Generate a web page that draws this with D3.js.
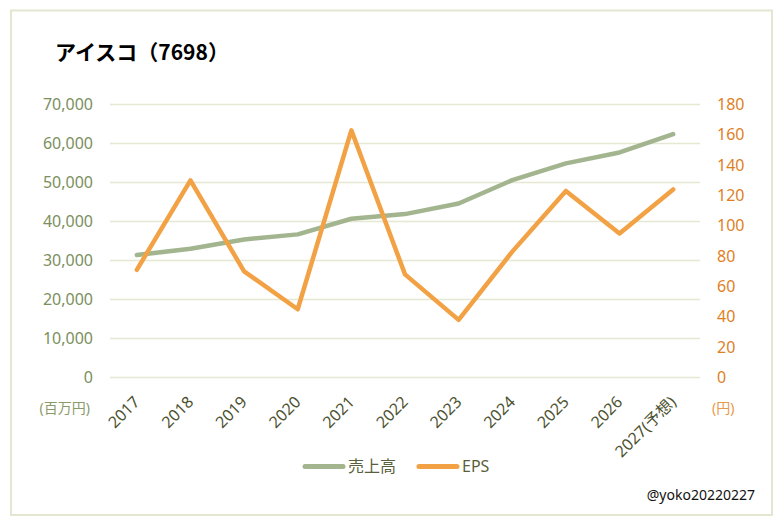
<!DOCTYPE html>
<html>
<head>
<meta charset="utf-8">
<script src="https://cdn.jsdelivr.net/npm/d3@7"></script>
<style>
  body { margin: 0; background: #fff; }
  text { font-family: "Noto Sans", "Noto Sans CJK JP", sans-serif; }
</style>
</head>
<body>
<div id="chart"></div>
<script>
// Data
const years = ["2017", "2018", "2019", "2020", "2021", "2022", "2023", "2024", "2025", "2026", "2027(予想)"];
const sales = [31400, 33000, 35400, 36700, 40700, 41900, 44600, 50600, 54900, 57700, 62400];
const eps = [71, 130, 70, 45, 163, 68, 38, 83, 123, 95, 124];
const leftTicks = [0, 10000, 20000, 30000, 40000, 50000, 60000, 70000];
const rightTicks = [0, 20, 40, 60, 80, 100, 120, 140, 160, 180];

const W = 778, H = 522;
const plot = { left: 110, right: 700, top: 104.5, bottom: 377.5 };

const svg = d3.select("#chart").append("svg")
    .attr("width", W)
    .attr("height", H);

// outer frame
svg.append("rect")
    .attr("x", 11).attr("y", 10.5)
    .attr("width", 761).attr("height", 504.5)
    .attr("fill", "#fff")
    .attr("stroke", "#e4e6d2")
    .attr("stroke-width", 2);

// Scales
const x = d3.scaleBand().domain(years).range([plot.left, plot.right]);
const yL = d3.scaleLinear().domain([0, 70000]).range([plot.bottom, plot.top]);
const yR = d3.scaleLinear().domain([0, 180]).range([plot.bottom, plot.top]);

// Gridlines
svg.append("g")
    .selectAll("line")
    .data(leftTicks)
    .join("line")
    .attr("x1", plot.left).attr("x2", plot.right)
    .attr("y1", d => yL(d)).attr("y2", d => yL(d))
    .attr("stroke", "#e6e8d4")
    .attr("stroke-width", 1.5);

// Left axis labels
svg.append("g")
    .selectAll("text")
    .data(leftTicks)
    .join("text")
    .attr("x", 93)
    .attr("y", d => yL(d))
    .attr("dy", "0.35em")
    .attr("text-anchor", "end")
    .attr("fill", "#7b8f5e")
    .style("font-size", "16px")
    .text(d => d3.format(",")(d));

svg.append("text")
    .attr("x", 90).attr("y", 413)
    .attr("text-anchor", "end")
    .attr("fill", "#8a9a6a")
    .style("font-size", "14px")
    .text("(百万円)");

// Right axis labels
svg.append("g")
    .selectAll("text")
    .data(rightTicks)
    .join("text")
    .attr("x", 717)
    .attr("y", d => yR(d))
    .attr("dy", "0.35em")
    .attr("fill", "#e07f1f")
    .style("font-size", "16px")
    .text(d => d);

svg.append("text")
    .attr("x", 712).attr("y", 413)
    .attr("fill", "#e8984a")
    .style("font-size", "14px")
    .text("(円)");

// X labels
svg.append("g")
    .selectAll("text")
    .data(years)
    .join("text")
    .attr("transform", d => `translate(${x(d) + x.bandwidth() / 2 + 4},403) rotate(-45)`)
    .attr("text-anchor", "end")
    .attr("fill", "#4d5230")
    .style("font-size", "16px")
    .text(d => d);

// Lines
const cx = d => x(d) + x.bandwidth() / 2;

svg.append("path")
    .datum(sales)
    .attr("fill", "none")
    .attr("stroke", "#a3b58f")
    .attr("stroke-width", 4.5)
    .attr("stroke-linecap", "round")
    .attr("stroke-linejoin", "round")
    .attr("d", d3.line().x((d, i) => cx(years[i])).y(d => yL(d)));

svg.append("path")
    .datum(eps)
    .attr("fill", "none")
    .attr("stroke", "#f2a244")
    .attr("stroke-width", 4.5)
    .attr("stroke-linecap", "round")
    .attr("stroke-linejoin", "round")
    .attr("d", d3.line().x((d, i) => cx(years[i])).y(d => yR(d)));

// Title
svg.append("text")
    .attr("x", 55).attr("y", 60)
    .attr("fill", "#000")
    .style("font-size", "21px")
    .style("font-weight", "bold")
    .style("font-family", "'Noto Sans CJK JP', sans-serif")
    .text("アイスコ（7698）");

// Legend
const legend = [
    { name: "売上高", color: "#a3b58f", x: 305 },
    { name: "EPS", color: "#f2a244", x: 419 }
];
const lg = svg.append("g").selectAll("g").data(legend).join("g");
lg.append("line")
    .attr("x1", d => d.x).attr("x2", d => d.x + 38)
    .attr("y1", 466.5).attr("y2", 466.5)
    .attr("stroke", d => d.color)
    .attr("stroke-width", 5)
    .attr("stroke-linecap", "round");
lg.append("text")
    .attr("x", d => d.x + 43)
    .attr("y", 466.5)
    .attr("dy", "0.35em")
    .attr("fill", "#5a5e3a")
    .style("font-size", "16px")
    .text(d => d.name);

// Watermark
svg.append("text")
    .attr("x", 755).attr("y", 500)
    .attr("text-anchor", "end")
    .attr("fill", "#111")
    .style("font-size", "14px")
    .text("@yoko20220227");
</script>
</body>
</html>
